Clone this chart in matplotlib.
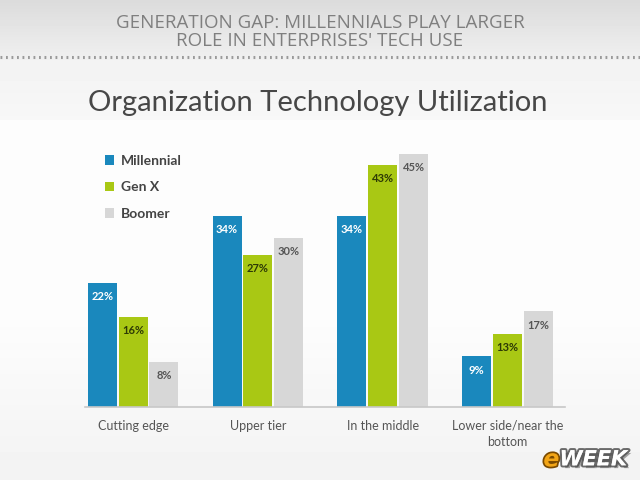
import numpy as np
import matplotlib.pyplot as plt
import matplotlib.patheffects as pe
from matplotlib.lines import Line2D

categories = ['Cutting edge', 'Upper tier', 'In the middle', 'Lower side/near the\nbottom']
series = ['Millennial', 'Gen X', 'Boomer']
millennial = [22, 34, 34, 9]
genx = [16, 27, 43, 13]
boomer = [8, 30, 45, 17]
colors = ['#1a88bd', '#a9c814', '#d7d7d7']
label_colors = ['white', '#2d3a05', '#555555']

fig = plt.figure(figsize=(6.4, 4.8), dpi=100)

# background gradient
bg = fig.add_axes([0, 0, 1, 1])
grad = np.concatenate([np.linspace(0.86, 0.94, 60), np.linspace(0.95, 0.97, 60),
                       np.linspace(0.99, 0.99, 200), np.linspace(0.99, 0.95, 160)])
bg.imshow(grad[:, None], aspect='auto', cmap='gray', vmin=0, vmax=1, extent=[0, 1, 0, 1])
bg.axis('off')

fig.text(0.5, 0.953, "GENERATION GAP: MILLENNIALS PLAY LARGER", ha='center', va='center',
         fontsize=13.5, color='#7f7f7f', family='Open Sans')
fig.text(0.5, 0.915, "ROLE IN ENTERPRISES' TECH USE", ha='center', va='center',
         fontsize=13.5, color='#7f7f7f', family='Open Sans')
fig.add_artist(Line2D([0, 1], [0.881, 0.881], color='#9a9a9a', lw=2.2, ls=(0, (0.6, 1.2)),
                      transform=fig.transFigure))

fig.text(0.138, 0.785, "Organization Technology Utilization", ha='left', va='center',
         fontsize=21, color='#474747', family='Lato')

ax = fig.add_axes([85 / 640, 1 - 407 / 480, 480 / 640, 281.5 / 480])
ax.patch.set_alpha(0)
x = np.arange(len(categories))
w = 0.232
step = 0.247
for i, (vals, c, lc) in enumerate(zip([millennial, genx, boomer], colors, label_colors)):
    xs = x + (i - 1) * step
    bars = ax.bar(xs, vals, w, color=c, label=series[i])
    for b, v in zip(bars, vals):
        ax.annotate(f'{v}%', (b.get_x() + b.get_width() / 2, v), xytext=(0, -6),
                    textcoords='offset points', ha='center', va='top', fontsize=8,
                    fontweight='bold', color=lc, family='Lato')

ax.set_xlim(-0.385, 3.46)
ax.set_ylim(0, 50)
for s in ['top', 'right', 'left']:
    ax.spines[s].set_visible(False)
ax.spines['bottom'].set_color('#c8c8c8')
ax.spines['bottom'].set_linewidth(1.2)
ax.set_yticks([])
ax.set_xticks(x)
ax.set_xticklabels(categories, fontsize=9, color='#555555', family='Lato', linespacing=1.5)
ax.tick_params(axis='x', length=0, pad=9)

leg = ax.legend(loc='upper left', bbox_to_anchor=(0.015, 0.94), frameon=False, handlelength=0.7,
                handleheight=0.7, handletextpad=0.45, labelspacing=1.05,
                prop={'family': 'Lato', 'weight': 'bold', 'size': 10})
for t in leg.get_texts():
    t.set_color('#444444')

# eWEEK logo
fig.text(0.98, 0.043, "WEEK", ha='right', va='center', fontsize=15, fontweight='bold',
         style='italic', color='white', family='DejaVu Sans',
         path_effects=[pe.withStroke(linewidth=3, foreground='#6a6a6a'),
                       pe.SimplePatchShadow(offset=(2, -2), alpha=0.5), pe.Normal()])
fig.text(0.874, 0.043, "e", ha='right', va='center', fontsize=17, fontweight='bold',
         style='italic', color='#f2a516', family='DejaVu Sans',
         path_effects=[pe.withStroke(linewidth=2.5, foreground='#7a4a00')])

fig.savefig('out.png', dpi=100)
